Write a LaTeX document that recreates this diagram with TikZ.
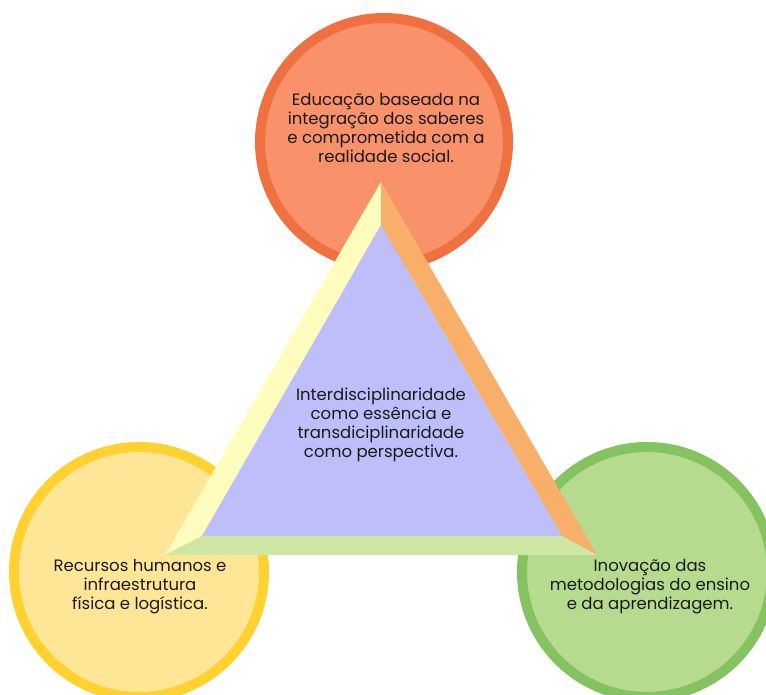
\documentclass[tikz,border=0pt]{standalone}
\usepackage{fontspec}
\setmainfont{Poppins}
\definecolor{topfill}{HTML}{F9916A}
\definecolor{topline}{HTML}{EF7040}
\definecolor{leftfill}{HTML}{FEE696}
\definecolor{leftline}{HTML}{FFD232}
\definecolor{rightfill}{HTML}{B7DB8E}
\definecolor{rightline}{HTML}{85C260}
\definecolor{inner}{HTML}{BEBEFA}
\definecolor{bevL}{HTML}{FEFDBE}
\definecolor{bevR}{HTML}{F8AF6A}
\definecolor{bevB}{HTML}{CEE6A3}
\definecolor{txt}{HTML}{1A1A1A}
\begin{document}
\begin{tikzpicture}[x=1pt,y=-1pt,
  ring/.style={line width=10pt},
  lbl/.style={align=center,text=txt,font=\fontsize{16.5}{19}\selectfont,inner sep=0pt}]
\useasboundingbox (0,0) rectangle (766,695);
% circles
\fill[topfill,draw=topline,ring] (384,142) circle[radius=124];
\fill[leftfill,draw=leftline,ring] (139,572) circle[radius=125];
\fill[rightfill,draw=rightline,ring] (647,572) circle[radius=125];
% triangle points
\coordinate (oA) at (381,182);
\coordinate (oL) at (165,555);
\coordinate (oR) at (597,555);
\coordinate (iA) at (381,225);
\coordinate (iL) at (202,536);
\coordinate (iR) at (562,536);
\fill[bevL] (oA) -- (oL) -- (iL) -- (iA) -- cycle;
\fill[bevR] (oA) -- (oR) -- (iR) -- (iA) -- cycle;
\fill[bevB] (oL) -- (oR) -- (iR) -- (iL) -- cycle;
\fill[inner] (iA) -- (iL) -- (iR) -- cycle;
% texts
\node[lbl] (ttop) at (386,128) {Educação baseada na\\integração dos saberes\\e comprometida com a\\realidade social.};
\node[lbl] (tmid) at (381,425) {Interdisciplinaridade\\como essência e\\transdiciplinaridade\\como perspectiva.};
\node[lbl] (tleft) at (140,587) {Recursos humanos e\\infraestrutura\\física e logística.};
\node[lbl] (tright) at (650,587) {Inovação das\\metodologias do ensino\\e da aprendizagem.};
\end{tikzpicture}
\end{document}
